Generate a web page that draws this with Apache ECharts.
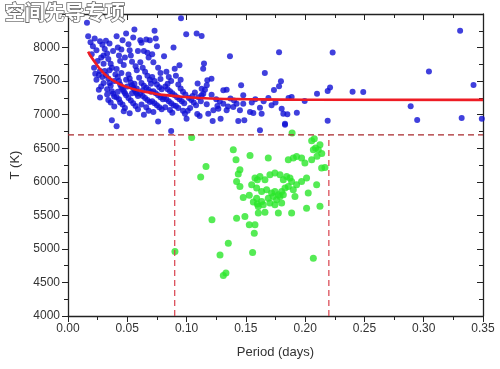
<!DOCTYPE html>
<html><head><meta charset="utf-8">
<script src="https://cdn.jsdelivr.net/npm/echarts@6/dist/echarts.min.js"></script>
<style>html,body{margin:0;padding:0;background:#fff}#c{width:500px;height:369px}</style>
</head><body><div id="c"></div>
<script>
// ---- data ----
const xTicks = [0, 0.05, 0.10, 0.15, 0.20, 0.25, 0.30, 0.35];
const yTicks = [4000, 4500, 5000, 5500, 6000, 6500, 7000, 7500, 8000];
const T_CUT = 6700, P_LO = 0.09, P_HI = 0.22;
const bluePoints = [
[0.016,8370],[0.017,8170],[0.019,8080],[0.021,8020],[0.0225,8135],[0.024,7960],[0.027,8095],[0.020,7900],[0.028,7850],[0.025,7800],[0.030,7760],[0.022,7700],[0.027,7650],[0.026,7590],[0.029,7560],[0.024,7520],[0.030,7470],[0.028,7420],[0.027,7255],[0.026,7370],[0.030,7880],[0.029,8040],[0.023,7610],
[0.031,7980],[0.032,8100],[0.033,7910],[0.034,7830],[0.035,8060],[0.036,7760],[0.037,7700],[0.038,7950],[0.031,7650],[0.032,7590],[0.034,7540],[0.035,7470],[0.036,7430],[0.033,7380],[0.037,7350],[0.038,7310],[0.039,7270],[0.034,7220],[0.036,7180],[0.039,7120],[0.037,6915],[0.040,7600],[0.039,7500],[0.035,7660],[0.033,7300],
[0.041,8170],[0.042,8000],[0.043,7880],[0.044,7800],[0.045,7970],[0.046,8110],[0.047,7740],[0.048,7850],[0.049,8210],[0.041,7680],[0.042,7560],[0.043,7500],[0.044,7450],[0.045,7410],[0.046,7380],[0.047,7350],[0.048,7320],[0.049,7290],[0.041,7260],[0.043,7230],[0.044,7180],[0.046,7150],[0.048,7100],[0.047,7050],[0.041,6826],[0.045,7620],[0.049,7520],[0.042,7340],[0.050,7420],
[0.051,8050],[0.052,7960],[0.053,7880],[0.054,7790],[0.055,8150],[0.056,8270],[0.057,7720],[0.058,7660],[0.059,7950],[0.051,7600],[0.052,7540],[0.053,7480],[0.054,7440],[0.055,7400],[0.056,7370],[0.057,7340],[0.058,7310],[0.059,7280],[0.051,7250],[0.053,7210],[0.055,7170],[0.057,7130],[0.059,7080],[0.052,7020],[0.056,7460],[0.058,7390],[0.054,7320],[0.060,7550],
[0.061,8110],[0.062,8070],[0.064,7950],[0.066,8120],[0.067,7921],[0.068,7850],[0.069,8110],[0.061,7780],[0.063,7700],[0.065,7640],[0.067,7580],[0.069,7520],[0.062,7470],[0.064,7430],[0.066,7400],[0.068,7370],[0.070,7340],[0.061,7310],[0.063,7280],[0.065,7250],[0.067,7220],[0.069,7190],[0.062,7150],[0.066,7110],[0.068,7060],[0.064,7000],[0.070,7460],[0.063,7360],
[0.073,8250],[0.074,8135],[0.075,8020],[0.071,7900],[0.072,7780],[0.076,7700],[0.078,7620],[0.071,7560],[0.073,7500],[0.075,7450],[0.077,7410],[0.079,7380],[0.072,7350],[0.074,7320],[0.076,7290],[0.078,7260],[0.080,7230],[0.071,7200],[0.073,7170],[0.075,7140],[0.077,7110],[0.079,7080],[0.076,6900],[0.072,7040],[0.078,7530],
[0.081,7870],[0.083,7640],[0.085,7560],[0.087,7500],[0.089,8000],[0.082,7420],[0.084,7380],[0.086,7350],[0.088,7320],[0.090,7290],[0.081,7260],[0.083,7230],[0.085,7200],[0.087,7170],[0.089,7140],[0.082,7110],[0.086,7070],[0.088,7030],[0.087,6756],[0.084,7460],[0.090,7686],
[0.0953,8437],[0.094,7736],[0.091,7580],[0.093,7450],[0.095,7390],[0.097,7340],[0.099,7300],[0.092,7260],[0.094,7230],[0.096,7200],[0.098,7170],[0.091,7130],[0.093,7100],[0.097,7060],[0.0986,7015],[0.100,6940],[0.0997,8199],[0.095,7520],
[0.1085,8209],[0.1127,8174],[0.1093,7463],[0.1127,7388],[0.1141,7313],[0.1147,7761],[0.114,7686],[0.121,7537],[0.1175,7512],[0.117,7437],[0.1155,7373],[0.1211,7298],[0.1127,7288],[0.117,7154],[0.1183,7015],[0.102,7250],[0.104,7220],[0.106,7180],[0.108,7140],[0.103,7100],[0.105,7280],[0.107,7330],[0.110,7260],[0.112,7200],[0.101,7060],[0.109,7010],[0.111,6980],
[0.1226,7064],[0.1268,7090],[0.131,7164],[0.1338,7064],[0.1394,7115],[0.1422,7164],[0.145,7064],[0.1478,7164],[0.122,6906],[0.1287,6940],[0.1436,6906],[0.1487,6915],[0.1366,7870],[0.146,7437],[0.1338,7373],[0.131,7363],[0.1478,7288],[0.125,7230],[0.128,7200],[0.137,7240],[0.140,7210],[0.126,7130],[0.135,7120],
[0.1535,7040],[0.1563,7025],[0.1619,7104],[0.1633,7015],[0.1717,7139],[0.1802,7090],[0.1816,7015],[0.1619,6766],[0.183,6866],[0.166,7622],[0.178,7930],[0.1796,7497],[0.178,7422],[0.1737,7368],[0.155,7180],[0.158,7230],[0.165,7200],[0.169,7250],[0.175,7180],[0.183,6850],
[0.3307,8249],[0.2232,7925],[0.3044,7642],[0.342,7443],[0.210,7313],[0.219,7354],[0.221,7403],[0.240,7343],[0.249,7338],[0.1886,7264],[0.186,7249],[0.1996,7204],[0.289,7124],[0.185,7005],[0.193,7030],[0.219,6910],[0.2945,6921],[0.332,6950],[0.349,6940]
];
const greenPoints = [
[0.1043,6661],[0.1394,6478],[0.1535,6393],[0.1164,6229],[0.1119,6070],[0.1417,6328],[0.145,6179],[0.1436,6115],[0.1422,6005],[0.145,5930],[0.1549,5955],[0.1597,6030],[0.1478,5766],[0.1529,5800],[0.1563,5697],[0.1597,5670],[0.1214,5433],[0.1422,5458],[0.1492,5483],[0.1529,5358],[0.1577,5358],[0.1571,5234],[0.1352,5085],[0.1282,4910],[0.1557,4945],[0.131,4602],[0.1332,4640],[0.0902,4960],
[0.189,6727],[0.2077,6642],[0.2055,6612],[0.2069,6478],[0.2111,6478],[0.2088,6503],[0.1689,6353],[0.1858,6328],[0.19,6353],[0.1928,6378],[0.197,6353],[0.1998,6279],[0.2055,6328],[0.2139,6204],[0.2167,6214],
[0.1577,6055],[0.1619,6080],[0.1661,6030],[0.1703,6105],[0.1745,6130],[0.1788,6105],[0.1816,6030],[0.1844,6080],[0.1872,6055],[0.1886,6005],[0.1928,5955],[0.197,6005],[0.2012,6055],[0.2097,5955],
[0.1591,5906],[0.1633,5856],[0.1675,5881],[0.1717,5831],[0.1745,5856],[0.1774,5806],[0.1802,5856],[0.183,5906],[0.1858,5930],[0.19,5881],[0.1591,5756],[0.1633,5707],[0.1689,5756],[0.1731,5781],[0.1759,5731],[0.1788,5781],[0.1816,5806],[0.1605,5632],[0.1647,5657],[0.1703,5682],[0.1745,5657],[0.1802,5682],[0.1914,5781],[0.2026,5831],
[0.1605,5533],[0.1661,5547],[0.1774,5533],[0.1886,5533],[0.2012,5607],[0.2125,5637],[0.2069,4861],[0.2125,6550],[0.2140,6420],[0.2100,6380]
];
const fitCurve = [
[0.017,7940],[0.02,7850],[0.03,7620],[0.04,7490],[0.05,7410],[0.06,7360],[0.07,7325],[0.08,7295],[0.10,7262],[0.12,7242],[0.15,7230],[0.20,7222],[0.35,7220]
];
const cutH = [[0, T_CUT], [0.35, T_CUT]];
const cutL = [[P_LO, 4000], [P_LO, T_CUT]];
const cutR = [[P_HI, 4000], [P_HI, T_CUT]];

// ---- chart ----
const chart = echarts.init(document.getElementById('c'), null, {renderer: 'canvas'});
const font = 'Liberation Sans, Arial, sans-serif';
const axisColor = '#222';
const dashH = {color: '#a8282c', width: 1.2, type: [6, 4]};
const dashV = {color: '#d8404c', width: 1.2, type: [6, 4]};
chart.setOption({
  animation: false,
  backgroundColor: '#fff',
  grid: {left: 68, right: 17, top: 14, bottom: 53},
  xAxis: [{
    type: 'value', position: 'bottom', min: 0, max: 0.35, interval: 0.05,
    axisLine: {show: true, lineStyle: {color: axisColor, width: 1.3}},
    axisTick: {show: true, inside: false, length: 6, lineStyle: {color: axisColor}},
    minorTick: {show: true, splitNumber: 2, length: 4, lineStyle: {color: axisColor}},
    splitLine: {show: false},
    axisLabel: {color: '#333', fontFamily: font, fontSize: 12, margin: 7,
      formatter: v => xTicks.some(t => Math.abs(t - v) < 1e-9) ? v.toFixed(2) : ''},
    name: 'Period (days)', nameLocation: 'middle', nameGap: 30,
    nameTextStyle: {color: '#333', fontFamily: font, fontSize: 13}
  }, {
    type: 'value', position: 'top', min: 0, max: 0.35, interval: 0.05,
    axisLine: {show: true, onZero: false, lineStyle: {color: axisColor, width: 1.3}},
    axisTick: {show: true, inside: true, length: 6, lineStyle: {color: axisColor}},
    minorTick: {show: true, splitNumber: 2, length: 4, lineStyle: {color: axisColor}},
    axisLabel: {show: false}, splitLine: {show: false}
  }],
  yAxis: [{
    type: 'value', position: 'left', min: 4000, max: 8500, interval: 500,
    axisLine: {show: true, onZero: false, lineStyle: {color: axisColor, width: 1.3}},
    axisTick: {show: true, inside: false, length: 6, lineStyle: {color: axisColor}},
    minorTick: {show: true, splitNumber: 2, length: 4, lineStyle: {color: axisColor}},
    splitLine: {show: false},
    axisLabel: {color: '#333', fontFamily: font, fontSize: 12, margin: 8,
      formatter: v => yTicks.includes(v) ? String(v) : ''},
    name: 'T (K)', nameLocation: 'middle', nameGap: 44, nameRotate: 90,
    nameTextStyle: {color: '#333', fontFamily: font, fontSize: 13}
  }, {
    type: 'value', position: 'right', min: 4000, max: 8500, interval: 500,
    axisLine: {show: true, onZero: false, lineStyle: {color: axisColor, width: 1.3}},
    axisTick: {show: true, inside: true, length: 6, lineStyle: {color: axisColor}},
    minorTick: {show: true, splitNumber: 2, length: 4, lineStyle: {color: axisColor}},
    axisLabel: {show: false}, splitLine: {show: false}
  }],
  graphic: [{
    type: 'text', left: 4, top: 2, z: 100,
    style: {text: '空间先导专项', font: 'bold 20px "Noto Sans CJK SC"', fill: '#fff', stroke: '#6a6a6a', lineWidth: 1.6}
  }],
  series: [
    {type: 'scatter', data: bluePoints, symbolSize: 6, itemStyle: {color: '#1010d4'}, z: 3},
    {type: 'scatter', data: greenPoints, symbolSize: 7, itemStyle: {color: '#2ae62a'}, z: 3},
    {type: 'line', data: fitCurve, smooth: true, showSymbol: false, lineStyle: {color: '#ee1c24', width: 2.6}, z: 5},
    {type: 'line', data: cutH, showSymbol: false, lineStyle: dashH, z: 4},
    {type: 'line', data: cutL, showSymbol: false, lineStyle: dashV, z: 4},
    {type: 'line', data: cutR, showSymbol: false, lineStyle: dashV, z: 4}
  ]
});
</script></body></html>
